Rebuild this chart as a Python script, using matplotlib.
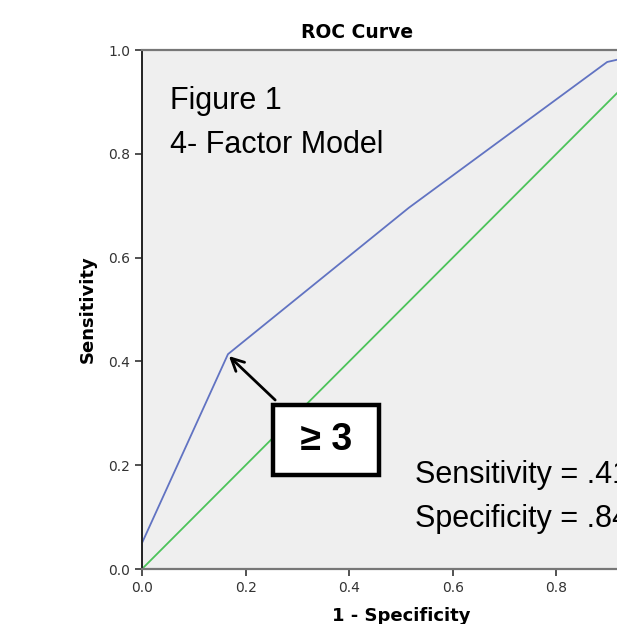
import matplotlib
matplotlib.use("Agg")
import matplotlib.pyplot as plt

# ROC data
fpr = [0.0, 0.0, 0.166, 0.515, 0.898, 1.0]
tpr = [0.0, 0.05, 0.414, 0.696, 0.977, 1.0]
ref_x = [0.0, 1.0]
ref_y = [0.0, 1.0]
ticks = [0.0, 0.2, 0.4, 0.6, 0.8, 1.0]
tick_labels = ["0.0", "0.2", "0.4", "0.6", "0.8", "1.0"]

narrow = ["Liberation Sans", "DejaVu Sans"]

fig = plt.figure(figsize=(6.17, 6.24), dpi=100)
ax = fig.add_axes([0.2301, 0.0881, 0.8396, 0.8317])
ax.set_facecolor("#efefef")

ax.plot(ref_x, ref_y, color="#4cc35a", lw=1.3)
ax.plot(fpr, tpr, color="#6173c2", lw=1.3)

ax.set_xlim(0, 1)
ax.set_ylim(0, 1)
ax.set_xticks(ticks)
ax.set_xticklabels(tick_labels)
ax.set_yticks(ticks)
ax.set_yticklabels(tick_labels)
ax.tick_params(direction="out", length=5, width=1.2, labelsize=10,
               labelcolor="#333333", color="#333333")

for side in ["top", "bottom"]:
    ax.spines[side].set_color("#777777")
    ax.spines[side].set_linewidth(1.6)
ax.spines["left"].set_color("#222222")
ax.spines["left"].set_linewidth(1.4)
ax.spines["right"].set_visible(False)

ax.set_xlabel("1 - Specificity", fontsize=13, fontweight="bold", labelpad=9)
ax.set_ylabel("Sensitivity", fontsize=13, fontweight="bold", labelpad=8)
fig.text(357 / 617, 1 - 33 / 624, "ROC Curve", ha="center", va="center",
         fontsize=13.5, fontweight="bold")

ax.text(0.054, 0.886, "Figure 1", family=narrow, fontsize=22, va="baseline")
ax.text(0.054, 0.8015, "4- Factor Model", family=narrow, fontsize=22, va="baseline")
ax.text(0.527, 0.166, "Sensitivity = .41", family=narrow, fontsize=22, va="baseline")
ax.text(0.527, 0.081, "Specificity = .84", family=narrow, fontsize=22, va="baseline")

ax.annotate("", xy=(0.164, 0.414), xytext=(0.261, 0.322),
            arrowprops=dict(arrowstyle="->,head_length=0.9,head_width=0.45",
                            color="black", lw=2))
ax.text(0.355, 0.249, " \u2265 3 ", family=narrow, fontsize=27, fontweight="bold",
        ha="center", va="center",
        bbox=dict(boxstyle="square,pad=0.45", fc="white", ec="black", lw=3.2))

fig.savefig("out.png", dpi=100)
